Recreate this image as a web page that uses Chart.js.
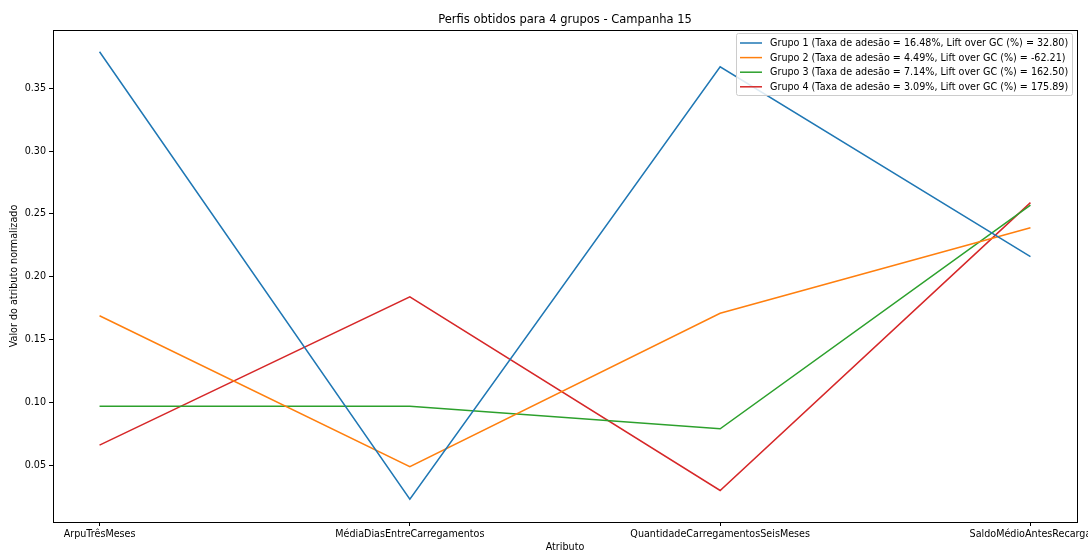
<!DOCTYPE html>
<html>
<head>
<meta charset="utf-8">
<script src="https://cdn.jsdelivr.net/npm/chart.js@4/dist/chart.umd.min.js"></script>
<style>
  html, body { margin: 0; padding: 0; background: #fff; overflow: hidden; }
  #wrap { width: 1088px; height: 550px; position: relative; }
</style>
</head>
<body>
<div id="wrap"><canvas id="c" width="1088" height="550"></canvas></div>
<script>
// Attributes profiled for each group
const categories = ['ArpuTrêsMeses', 'MédiaDiasEntreCarregamentos', 'QuantidadeCarregamentosSeisMeses', 'SaldoMédioAntesRecarga'];

// Normalized attribute value per group
const grupo1 = [0.379, 0.023, 0.367, 0.216];
const grupo2 = [0.169, 0.049, 0.171, 0.239];
const grupo3 = [0.097, 0.097, 0.079, 0.257];
const grupo4 = [0.066, 0.184, 0.030, 0.259];

const seriesLabels = [
  'Grupo 1 (Taxa de adesão = 16.48%, Lift over GC (%) = 32.80)',
  'Grupo 2 (Taxa de adesão = 4.49%, Lift over GC (%) = -62.21)',
  'Grupo 3 (Taxa de adesão = 7.14%, Lift over GC (%) = 162.50)',
  'Grupo 4 (Taxa de adesão = 3.09%, Lift over GC (%) = 175.89)'
];
const seriesColors = ['#1f77b4', '#ff7f0e', '#2ca02c', '#d62728'];
const yTicks = [0.05, 0.10, 0.15, 0.20, 0.25, 0.30, 0.35];

const titleText = 'Perfis obtidos para 4 grupos - Campanha 15';
const xTitle = 'Atributo';
const yTitle = 'Valor do atributo normalizado';

const FONT = '"DejaVu Sans", sans-serif';
const SMALL = 9.6;

function toPoints(values) {
  return values.map((v, i) => ({ x: i, y: v }));
}

const datasets = [grupo1, grupo2, grupo3, grupo4].map((vals, i) => ({
  label: seriesLabels[i],
  data: toPoints(vals),
  borderColor: seriesColors[i],
  backgroundColor: seriesColors[i],
  borderWidth: 1.5,
  pointRadius: 0,
  tension: 0,
  fill: false
}));

// Frame, titles and in-plot legend
const decorations = {
  id: 'decorations',
  afterDraw(chart) {
    const { ctx, chartArea: a } = chart;
    ctx.save();
    // full axes box
    ctx.strokeStyle = '#000';
    ctx.lineWidth = 1;
    ctx.strokeRect(Math.round(a.left) + 0.5, Math.round(a.top) + 0.5,
                   Math.round(a.right - a.left), Math.round(a.bottom - a.top));

    const cx = (a.left + a.right) / 2;
    ctx.fillStyle = '#000';
    ctx.textAlign = 'center';
    ctx.textBaseline = 'middle';
    ctx.font = '11.5px ' + FONT;
    ctx.fillText(titleText, cx, 20);

    ctx.font = SMALL + 'px ' + FONT;
    ctx.fillText(xTitle, cx, 547);

    ctx.save();
    ctx.translate(14, (a.top + a.bottom) / 2);
    ctx.rotate(-Math.PI / 2);
    ctx.fillText(yTitle, 0, 0);
    ctx.restore();

    // legend box
    const lx = 736, ly = 33, lw = 336, lh = 62;
    ctx.fillStyle = 'rgba(255,255,255,0.85)';
    ctx.strokeStyle = '#cccccc';
    ctx.lineWidth = 1;
    ctx.beginPath();
    if (ctx.roundRect) ctx.roundRect(lx + 0.5, ly + 0.5, lw, lh, 2); else ctx.rect(lx + 0.5, ly + 0.5, lw, lh);
    ctx.fill();
    ctx.stroke();
    ctx.textAlign = 'left';
    ctx.font = SMALL + 'px ' + FONT;
    chart.data.datasets.forEach((ds, i) => {
      const y = ly + 10 + i * 14.6;
      ctx.strokeStyle = ds.borderColor;
      ctx.lineWidth = 1.5;
      ctx.beginPath();
      ctx.moveTo(lx + 4, y);
      ctx.lineTo(lx + 26, y);
      ctx.stroke();
      ctx.fillStyle = '#000';
      ctx.fillText(ds.label, lx + 34, y + 0.5);
    });
    ctx.restore();
  }
};

new Chart(document.getElementById('c'), {
  type: 'line',
  data: { datasets },
  options: {
    responsive: false,
    animation: false,
    events: [],
    layout: { padding: { top: 30, right: 11, left: 0, bottom: 0 } },
    plugins: { legend: { display: false }, title: { display: false }, tooltip: { enabled: false } },
    scales: {
      x: {
        type: 'linear',
        min: -0.15,
        max: 3.15,
        afterBuildTicks(scale) { scale.ticks = categories.map((_, i) => ({ value: i })); },
        afterFit(scale) { scale.height = 28; scale.paddingLeft = 0; scale.paddingRight = 0; },
        border: { display: true, color: '#000', width: 1 },
        grid: { drawOnChartArea: false, drawTicks: true, tickLength: 4, color: '#000' },
        ticks: {
          autoSkip: false,
          maxRotation: 0,
          padding: 3,
          color: '#000',
          font: { family: FONT, size: SMALL },
          callback: (v) => categories[v] ?? ''
        }
      },
      y: {
        min: 0.0049,
        max: 0.3963,
        afterBuildTicks(scale) { scale.ticks = yTicks.map(v => ({ value: v })); },
        afterFit(scale) { scale.width = 53; scale.paddingTop = 0; scale.paddingBottom = 0; },
        border: { display: true, color: '#000', width: 1 },
        grid: { drawOnChartArea: false, drawTicks: true, tickLength: 4, color: '#000' },
        ticks: {
          padding: 3,
          color: '#000',
          font: { family: FONT, size: SMALL },
          callback: (v) => v.toFixed(2)
        }
      }
    }
  },
  plugins: [decorations]
});
</script>
</body>
</html>
